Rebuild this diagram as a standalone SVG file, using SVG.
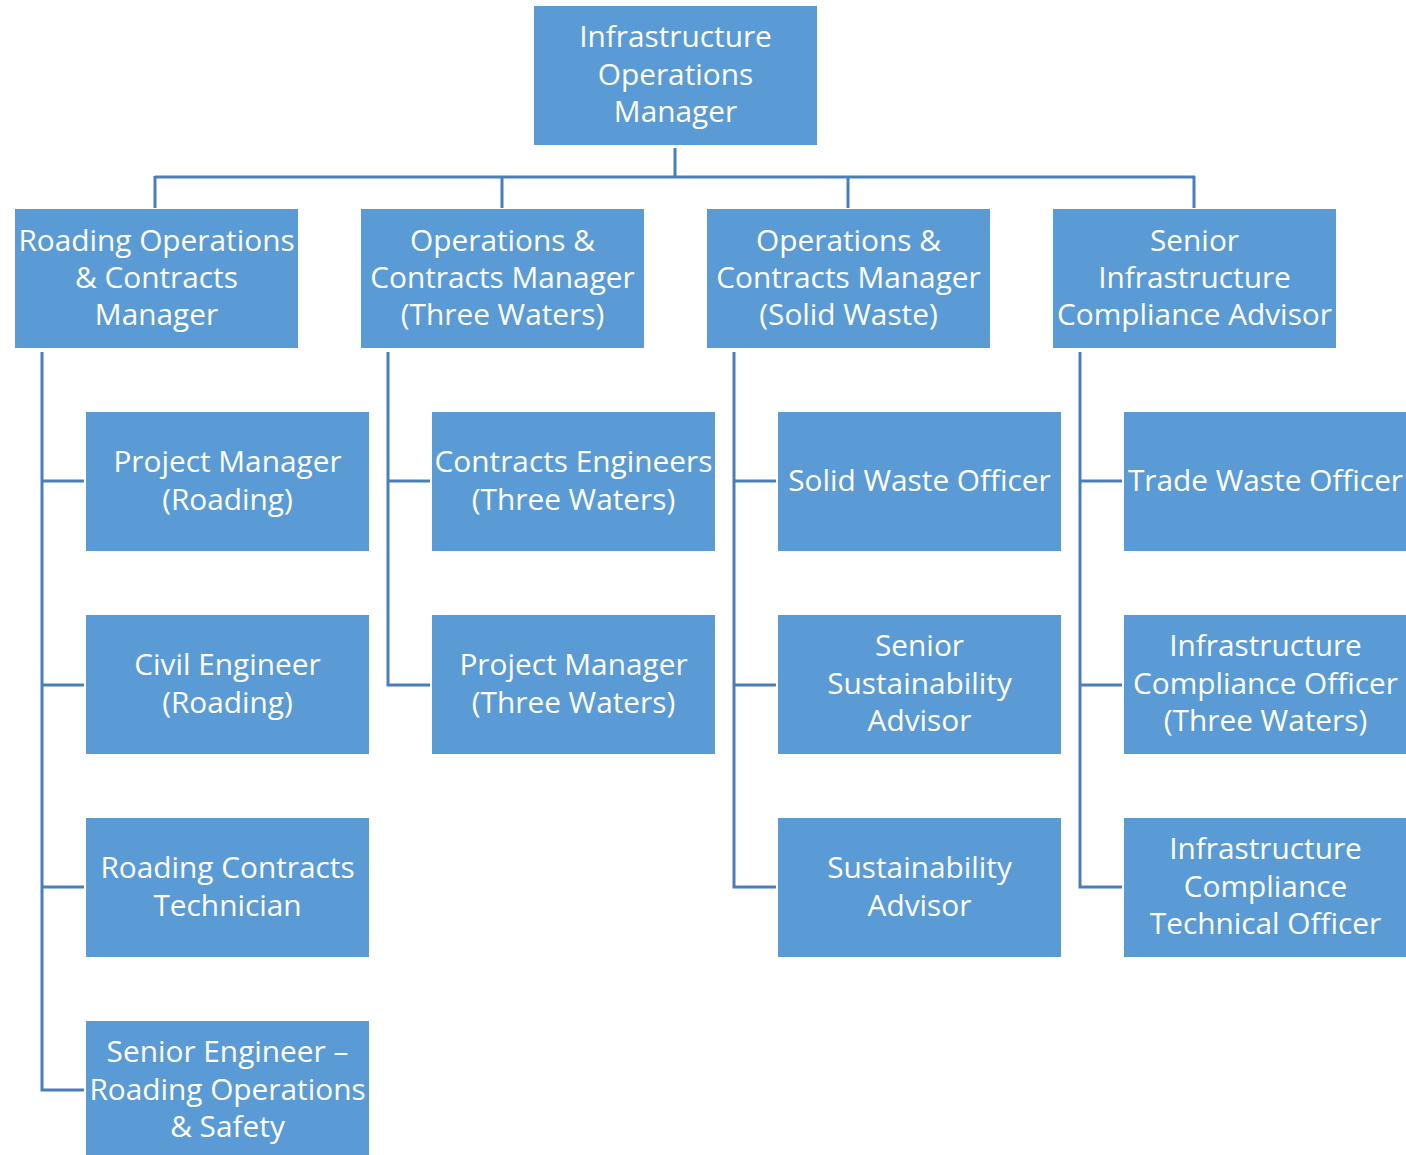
<svg xmlns="http://www.w3.org/2000/svg" width="1406" height="1155" viewBox="0 0 1406 1155">
<style>
.box{fill:#5B9BD5;}
.t{fill:#FFFFFF;font-family:"Open Sans","Liberation Sans",sans-serif;font-size:29.8px;text-anchor:middle;}
.c{fill:none;stroke:#4A7EBB;stroke-width:3;}
</style>
<rect width="1406" height="1155" fill="#FFFFFF"/>
<g id="connectors">
<path class="c" d="M675 148V177M155 177H1195M155 176V208M502 176V208M848 176V208M1194 176V208"/>
<path class="c" d="M42 352V1090H84M42 481H84M42 685H84M42 887H84"/>
<path class="c" d="M388 352V685H430M388 481H430"/>
<path class="c" d="M734 352V887H776M734 481H776M734 685H776"/>
<path class="c" d="M1080 352V887H1122M1080 481H1122M1080 685H1122"/>
</g>
<g id="n0"><rect class="box" x="534" y="6" width="283" height="139"/><text class="t"><tspan x="675.5" y="47">Infrastructure</tspan><tspan x="675.5" y="85">Operations</tspan><tspan x="675.5" y="122">Manager</tspan></text></g>
<g id="n1"><rect class="box" x="15" y="209" width="283" height="139"/><text class="t"><tspan x="156.5" y="251">Roading Operations</tspan><tspan x="156.5" y="288">&amp; Contracts</tspan><tspan x="156.5" y="325">Manager</tspan></text></g>
<g id="n2"><rect class="box" x="361" y="209" width="283" height="139"/><text class="t"><tspan x="502.5" y="251">Operations &amp;</tspan><tspan x="502.5" y="288">Contracts Manager</tspan><tspan x="502.5" y="325">(Three Waters)</tspan></text></g>
<g id="n3"><rect class="box" x="707" y="209" width="283" height="139"/><text class="t"><tspan x="848.5" y="251">Operations &amp;</tspan><tspan x="848.5" y="288">Contracts Manager</tspan><tspan x="848.5" y="325">(Solid Waste)</tspan></text></g>
<g id="n4"><rect class="box" x="1053" y="209" width="283" height="139"/><text class="t"><tspan x="1194.5" y="251">Senior</tspan><tspan x="1194.5" y="288">Infrastructure</tspan><tspan x="1194.5" y="325">Compliance Advisor</tspan></text></g>
<g id="n5"><rect class="box" x="86" y="412" width="283" height="139"/><text class="t"><tspan x="227.5" y="472">Project Manager</tspan><tspan x="227.5" y="510">(Roading)</tspan></text></g>
<g id="n6"><rect class="box" x="86" y="615" width="283" height="139"/><text class="t"><tspan x="227.5" y="675">Civil Engineer</tspan><tspan x="227.5" y="713">(Roading)</tspan></text></g>
<g id="n7"><rect class="box" x="86" y="818" width="283" height="139"/><text class="t"><tspan x="227.5" y="878">Roading Contracts</tspan><tspan x="227.5" y="916">Technician</tspan></text></g>
<g id="n8"><rect class="box" x="86" y="1021" width="283" height="139"/><text class="t"><tspan x="227.5" y="1062">Senior Engineer –</tspan><tspan x="227.5" y="1100">Roading Operations</tspan><tspan x="227.5" y="1137">&amp; Safety</tspan></text></g>
<g id="n9"><rect class="box" x="432" y="412" width="283" height="139"/><text class="t"><tspan x="573.5" y="472">Contracts Engineers</tspan><tspan x="573.5" y="510">(Three Waters)</tspan></text></g>
<g id="n10"><rect class="box" x="432" y="615" width="283" height="139"/><text class="t"><tspan x="573.5" y="675">Project Manager</tspan><tspan x="573.5" y="713">(Three Waters)</tspan></text></g>
<g id="n11"><rect class="box" x="778" y="412" width="283" height="139"/><text class="t"><tspan x="919.5" y="491">Solid Waste Officer</tspan></text></g>
<g id="n12"><rect class="box" x="778" y="615" width="283" height="139"/><text class="t"><tspan x="919.5" y="656">Senior</tspan><tspan x="919.5" y="694">Sustainability</tspan><tspan x="919.5" y="731">Advisor</tspan></text></g>
<g id="n13"><rect class="box" x="778" y="818" width="283" height="139"/><text class="t"><tspan x="919.5" y="878">Sustainability</tspan><tspan x="919.5" y="916">Advisor</tspan></text></g>
<g id="n14"><rect class="box" x="1124" y="412" width="282" height="139"/><text class="t"><tspan x="1265.5" y="491">Trade Waste Officer</tspan></text></g>
<g id="n15"><rect class="box" x="1124" y="615" width="282" height="139"/><text class="t"><tspan x="1265.5" y="656">Infrastructure</tspan><tspan x="1265.5" y="694">Compliance Officer</tspan><tspan x="1265.5" y="731">(Three Waters)</tspan></text></g>
<g id="n16"><rect class="box" x="1124" y="818" width="282" height="139"/><text class="t"><tspan x="1265.5" y="859">Infrastructure</tspan><tspan x="1265.5" y="897">Compliance</tspan><tspan x="1265.5" y="934">Technical Officer</tspan></text></g>
</svg>
